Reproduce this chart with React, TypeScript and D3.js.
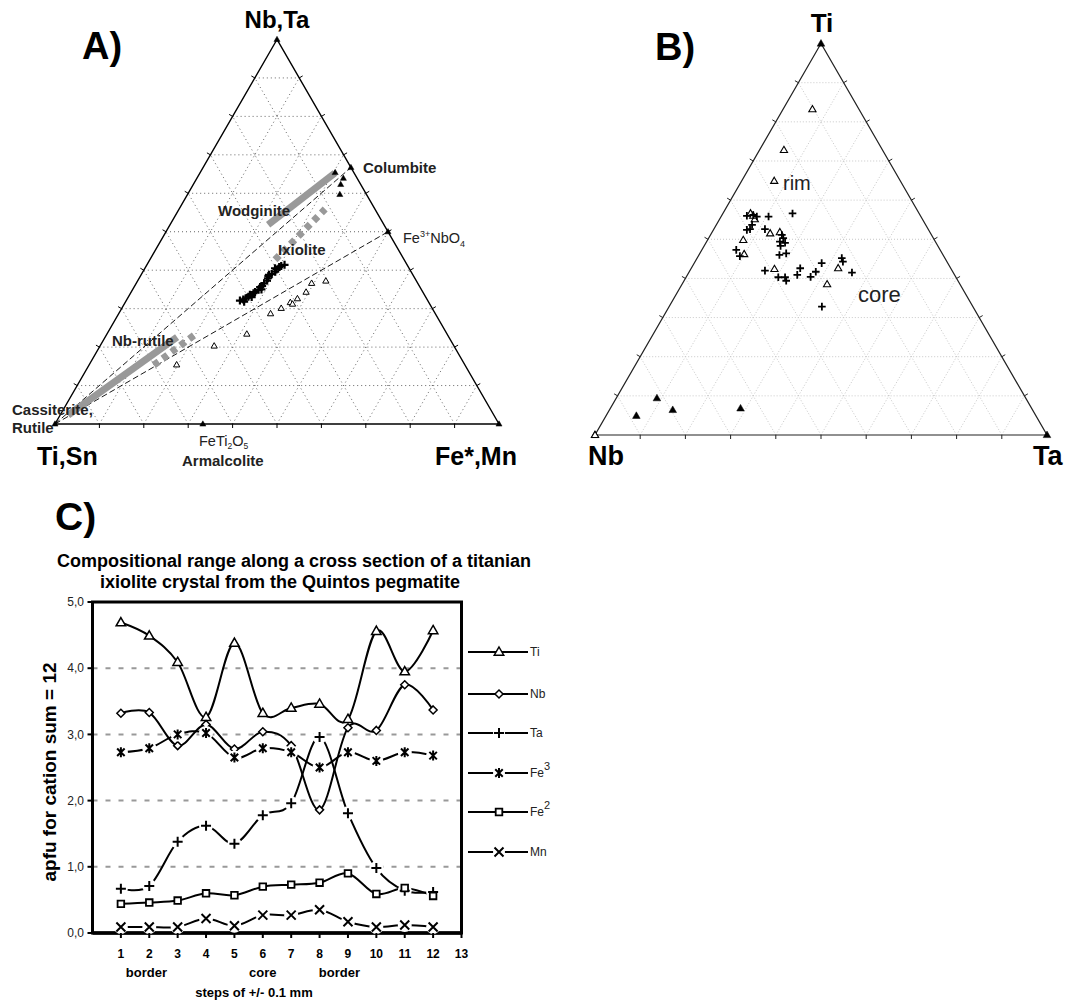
import React from 'react';
import * as d3 from 'd3';

const FONT = "'Liberation Sans', Arial, Helvetica, sans-serif";

// ---------------- Panel A : ternary (Nb,Ta) – (Ti,Sn) – (Fe*,Mn)
// every point is [Nb+Ta fraction, Fe*+Mn fraction]; Ti+Sn is the remainder
const aIxioliteCrosses: [number, number][] = [
  [0.321, 0.256], [0.324, 0.262], [0.327, 0.266], [0.331, 0.270], [0.336, 0.271],
  [0.340, 0.277], [0.343, 0.279], [0.349, 0.284], [0.356, 0.284], [0.359, 0.287],
  [0.366, 0.288], [0.373, 0.291], [0.379, 0.290], [0.388, 0.288], [0.390, 0.293],
  [0.396, 0.298], [0.402, 0.298], [0.408, 0.301], [0.411, 0.304], [0.414, 0.310],
  [0.405, 0.293], [0.385, 0.288], [0.318, 0.267], [0.330, 0.278], [0.350, 0.290],
];
const aOpenTriangles: [number, number][] = [
  [0.154, 0.197], [0.203, 0.257], [0.234, 0.315], [0.287, 0.342], [0.301, 0.359],
  [0.316, 0.372], [0.312, 0.379], [0.326, 0.383], [0.343, 0.394], [0.366, 0.395],
  [0.372, 0.424],
];
const aFilledTriangles: [number, number][] = [
  [0.654, 0.304], [0.639, 0.330], [0.623, 0.332], [0.597, 0.343],
];
const aEndMembers: [number, number][] = [
  [1, 0], [0, 1], [0.667, 0.333], [0.5, 0.5], [0, 0.333], [0, 0],
];
const aTieLines: [number, number][][] = [
  [[0, 0], [0.667, 0.333]],
  [[0, 0], [0.5, 0.5]],
];
const aSolidBands: [number, number][][] = [
  [[0.023, 0.018], [0.226, 0.162]],
  [[0.518, 0.221], [0.653, 0.304]],
];
const aDottedBands: [number, number][][] = [
  [[0.153, 0.146], [0.237, 0.202]],
  [[0.427, 0.282], [0.559, 0.329]],
];

// ---------------- Panel B : ternary Ti – Nb – Ta
// every point is [Ti fraction, Ta fraction]; Nb is the remainder
const bOpenTriangles: [number, number][] = [
  [0.832, 0.065], [0.728, 0.054], [0.649, 0.072], [0.566, 0.061], [0.551, 0.078],
  [0.560, 0.070], [0.498, 0.079], [0.515, 0.130], [0.518, 0.150], [0.462, 0.099],
  [0.424, 0.185], [0.426, 0.325], [0.385, 0.321],
];
const bCrosses: [number, number][] = [
  [0.560, 0.056], [0.562, 0.069], [0.558, 0.079], [0.558, 0.105], [0.566, 0.154],
  [0.526, 0.080], [0.524, 0.074], [0.526, 0.113], [0.511, 0.158], [0.503, 0.165],
  [0.494, 0.162], [0.491, 0.175], [0.483, 0.169], [0.460, 0.178], [0.464, 0.191],
  [0.473, 0.076], [0.457, 0.092], [0.420, 0.166], [0.403, 0.204], [0.403, 0.219],
  [0.394, 0.226], [0.409, 0.243], [0.426, 0.241], [0.404, 0.275], [0.417, 0.280],
  [0.439, 0.282], [0.452, 0.320], [0.443, 0.327], [0.415, 0.361], [0.328, 0.338],
  [0.537, 0.079],
];
const bFilledTriangles: [number, number][] = [
  [0.094, 0.090], [0.049, 0.067], [0.064, 0.140], [0.068, 0.288],
];
const bCorners: [number, number][] = [[1, 0], [0, 0], [0, 1]];

// ---------------- Panel C : profile
const steps = [1, 2, 3, 4, 5, 6, 7, 8, 9, 10, 11, 12];
const xTicks = [1, 2, 3, 4, 5, 6, 7, 8, 9, 10, 11, 12, 13];
const yTicks = [0, 1, 2, 3, 4, 5];
const yTickLabels = ['0,0', '1,0', '2,0', '3,0', '4,0', '5,0'];
const tiValues = [4.69, 4.49, 4.09, 3.26, 4.38, 3.32, 3.40, 3.46, 3.23, 4.56, 3.95, 4.57];
const nbValues = [3.32, 3.33, 2.83, 3.15, 2.78, 3.04, 2.83, 1.86, 3.10, 3.06, 3.75, 3.37];
const taValues = [0.67, 0.71, 1.38, 1.62, 1.35, 1.78, 1.96, 2.96, 1.81, 0.98, 0.64, 0.62];
const fe3Values = [2.73, 2.79, 3.00, 3.02, 2.65, 2.79, 2.73, 2.50, 2.73, 2.60, 2.73, 2.68];
const fe2Values = [0.44, 0.46, 0.49, 0.60, 0.57, 0.70, 0.73, 0.76, 0.90, 0.59, 0.68, 0.56];
const mnValues = [0.09, 0.09, 0.09, 0.22, 0.11, 0.27, 0.27, 0.35, 0.17, 0.09, 0.12, 0.09];
const seriesNames = ['Ti', 'Nb', 'Ta', 'Fe', 'Fe', 'Mn'];
const seriesSup = ['', '', '', '3', '2', ''];
const zoneLabels = [
  { step: 1.9, text: 'border' },
  { step: 6.0, text: 'core' },
  { step: 8.7, text: 'border' },
];

// ---------------- helpers
type Pt = [number, number];

function makeTernary(left: number, right: number, base: number) {
  const h = ((right - left) * Math.sqrt(3)) / 2;
  const xs = d3.scaleLinear().domain([0, 1]).range([left, right]);
  const ys = d3.scaleLinear().domain([0, 1]).range([base, base - h]);
  return (top: number, br: number): Pt => [xs(br + top / 2), ys(top)];
}

const triPath = (s: number) => `M0,${-s}L${s * 0.95},${s * 0.65}L${-s * 0.95},${s * 0.65}Z`;
const plusPath = (s: number) => `M${-s},0H${s}M0,${-s}V${s}`;
const xPath = (s: number) => `M${-s},${-s}L${s},${s}M${-s},${s}L${s},${-s}`;
const starPath = (s: number) => `${xPath(s * 0.75)}M0,${-s}V${s}`;
const diamondPath = (s: number) => `M0,${-s}L${s},0L0,${s}L${-s},0Z`;
const squarePath = (s: number) => `M${-s},${-s}H${s}V${s}H${-s}Z`;

function TernaryFrame({ T, gridColor, gridDash, edgeColor, edgeWidth }: any) {
  const fr = [0.1, 0.2, 0.3, 0.4, 0.5, 0.6, 0.7, 0.8, 0.9];
  const seg = (p: Pt, q: Pt) => `M${p[0]},${p[1]}L${q[0]},${q[1]}`;
  const grid: string[] = [];
  fr.forEach((f) => {
    grid.push(seg(T(f, 0), T(f, 1 - f)));
    grid.push(seg(T(0, f), T(1 - f, f)));
    grid.push(seg(T(0, 1 - f), T(1 - f, 0)));
  });
  const ticks: string[] = [];
  const L = 4;
  fr.forEach((f) => {
    const b = T(0, f);
    ticks.push(seg(b, [b[0], b[1] + L]));
    const l = T(f, 0);
    ticks.push(seg(l, [l[0] - 0.866 * L, l[1] - 0.5 * L]));
    const r = T(f, 1 - f);
    ticks.push(seg(r, [r[0] + 0.866 * L, r[1] - 0.5 * L]));
  });
  const a = T(1, 0), bl = T(0, 0), br = T(0, 1);
  return (
    <g>
      <path d={grid.join('')} stroke={gridColor} strokeWidth={1} strokeDasharray={gridDash} fill="none" />
      <path d={ticks.join('')} stroke={edgeColor} strokeWidth={1} fill="none" />
      <path
        d={`M${a[0]},${a[1]}L${bl[0]},${bl[1]}L${br[0]},${br[1]}Z`}
        stroke={edgeColor}
        strokeWidth={edgeWidth}
        fill="none"
      />
    </g>
  );
}

function PanelA() {
  const T = makeTernary(55, 499, 424);
  const P = (d: Pt) => T(d[0], d[1]);
  return (
    <g>
      <TernaryFrame T={T} gridColor="#666" gridDash="1,3" edgeColor="#000" edgeWidth={1.4} />
      {aTieLines.map((l, i) => {
        const p = P(l[0]), q = P(l[1]);
        return <line key={i} x1={p[0]} y1={p[1]} x2={q[0]} y2={q[1]} stroke="#000" strokeWidth={0.9} strokeDasharray="6,3" />;
      })}
      {aSolidBands.map((l, i) => {
        const p = P(l[0]), q = P(l[1]);
        return <line key={i} x1={p[0]} y1={p[1]} x2={q[0]} y2={q[1]} stroke="#999" strokeWidth={7} />;
      })}
      {aDottedBands.map((l, i) => {
        const p = P(l[0]), q = P(l[1]);
        return <line key={i} x1={p[0]} y1={p[1]} x2={q[0]} y2={q[1]} stroke="#999" strokeWidth={7} strokeDasharray="6,5" />;
      })}
      {aOpenTriangles.map((d, i) => {
        const p = P(d);
        return <path key={i} d={triPath(3.3)} transform={`translate(${p[0]},${p[1]})`} fill="#fff" stroke="#000" strokeWidth={1} />;
      })}
      {aFilledTriangles.concat(aEndMembers).map((d, i) => {
        const p = P(d);
        return <path key={i} d={triPath(3.2)} transform={`translate(${p[0]},${p[1]})`} fill="#000" stroke="#000" strokeWidth={0.5} />;
      })}
      {aIxioliteCrosses.map((d, i) => {
        const p = P(d);
        return <path key={i} d={plusPath(4)} transform={`translate(${p[0]},${p[1]})`} stroke="#000" strokeWidth={2.2} fill="none" />;
      })}
      <g fontFamily={FONT} fill="#222">
        <text x={82} y={59} fontSize={38} fontWeight="bold" fill="#000">A)</text>
        <text x={277} y={28} fontSize={24} fontWeight="bold" textAnchor="middle" fill="#000">Nb,Ta</text>
        <text x={37} y={465} fontSize={25} fontWeight="bold" fill="#000">Ti,Sn</text>
        <text x={435} y={465} fontSize={25} fontWeight="bold" fill="#000">Fe*,Mn</text>
        <text x={363} y={173} fontSize={15} fontWeight="bold">Columbite</text>
        <text x={403} y={243} fontSize={14.5}>
          Fe<tspan fontSize={9} dy={-6}>3+</tspan>
          <tspan dy={6}>NbO</tspan>
          <tspan fontSize={9} dy={4}>4</tspan>
        </text>
        <text x={218} y={216} fontSize={15} fontWeight="bold">Wodginite</text>
        <text x={278} y={255} fontSize={15} fontWeight="bold">Ixiolite</text>
        <text x={112} y={346} fontSize={15} fontWeight="bold">Nb-rutile</text>
        <text x={12} y={415} fontSize={15} fontWeight="bold">Cassiterite,</text>
        <text x={12} y={433} fontSize={15} fontWeight="bold">Rutile</text>
        <text x={199} y={446} fontSize={14.5}>
          FeTi<tspan fontSize={8.5} dy={3}>2</tspan>
          <tspan dy={-3}>O</tspan>
          <tspan fontSize={8.5} dy={3}>5</tspan>
        </text>
        <text x={182} y={466} fontSize={15} fontWeight="bold">Armalcolite</text>
      </g>
    </g>
  );
}

function PanelB() {
  const T = makeTernary(595, 1047, 435);
  const P = (d: Pt) => T(d[0], d[1]);
  return (
    <g>
      <TernaryFrame T={T} gridColor="#c8c8c8" gridDash="1,2" edgeColor="#222" edgeWidth={1.2} />
      {bFilledTriangles.concat(bCorners).map((d, i) => {
        const p = P(d);
        return <path key={i} d={triPath(4)} transform={`translate(${p[0]},${p[1]})`} fill="#000" stroke="#000" strokeWidth={0.5} />;
      })}
      {bOpenTriangles.concat([bCorners[1]]).map((d, i) => {
        const p = P(d);
        return <path key={i} d={triPath(3.8)} transform={`translate(${p[0]},${p[1]})`} fill="#fff" stroke="#000" strokeWidth={1.1} />;
      })}
      {bCrosses.map((d, i) => {
        const p = P(d);
        return <path key={i} d={plusPath(3.8)} transform={`translate(${p[0]},${p[1]})`} stroke="#000" strokeWidth={1.8} fill="none" />;
      })}
      <g fontFamily={FONT}>
        <text x={655} y={60} fontSize={38} fontWeight="bold">B)</text>
        <text x={822} y={32} fontSize={26} fontWeight="bold" textAnchor="middle">Ti</text>
        <text x={588} y={465} fontSize={27} fontWeight="bold">Nb</text>
        <text x={1033} y={465} fontSize={27} fontWeight="bold">Ta</text>
        <text x={783} y={190} fontSize={20} fill="#222">rim</text>
        <text x={858} y={302} fontSize={22} fill="#222">core</text>
      </g>
    </g>
  );
}

function PanelC() {
  const x = d3.scaleLinear().domain([0, 13]).range([92.5, 461.5]);
  const y = d3.scaleLinear().domain([0, 5]).range([933, 602]);
  const line = d3
    .line<number>()
    .x((_, i) => x(steps[i]))
    .y((d) => y(d))
    .curve(d3.curveCatmullRom.alpha(0));

  const series = [
    { values: tiValues, marker: triPath(5), fill: '#fff', sw: 1.5, halo: false },
    { values: nbValues, marker: diamondPath(4), fill: '#fff', sw: 1.5, halo: false },
    { values: taValues, marker: plusPath(5), fill: 'none', sw: 2, halo: true },
    { values: fe3Values, marker: starPath(5), fill: 'none', sw: 2, halo: true },
    { values: fe2Values, marker: squarePath(3.3), fill: '#fff', sw: 1.8, halo: false },
    { values: mnValues, marker: xPath(4.5), fill: 'none', sw: 2, halo: true },
  ];
  const legendY = [652, 694, 733, 773, 812, 852];

  return (
    <g fontFamily={FONT}>
      <text x={55} y={530} fontSize={39} fontWeight="bold">C)</text>
      <text x={294} y={567} fontSize={18} fontWeight="bold" textAnchor="middle">
        Compositional range along a cross section of a titanian
      </text>
      <text x={280} y={588} fontSize={18} fontWeight="bold" textAnchor="middle">
        ixiolite crystal from the Quintos pegmatite
      </text>

      {/* grid */}
      {yTicks.filter((t) => t > 0 && t < 5).map((t) => (
        <line key={t} x1={x(0)} x2={x(13)} y1={y(t)} y2={y(t)} stroke="#999" strokeWidth={2} strokeDasharray="5,8" />
      ))}

      {/* series lines */}
      {series.map((s, i) => (
        <path key={i} d={line(s.values) || ''} fill="none" stroke="#000" strokeWidth={2} />
      ))}

      {/* frame */}
      <rect x={x(0)} y={y(5)} width={x(13) - x(0)} height={y(0) - y(5)} fill="none" stroke="#000" strokeWidth={3} />
      <line x1={x(0)} x2={x(13)} y1={y(0)} y2={y(0)} stroke="#000" strokeWidth={3.5} />

      {/* markers */}
      {series.map((s, i) => (
        <g key={i}>
          {s.values.map((v, j) => (
            <g key={j} transform={`translate(${x(steps[j])},${y(v)})`}>
              {s.halo && <circle r={7} fill="#fff" />}
              <path d={s.marker} fill={s.fill} stroke="#000" strokeWidth={s.sw} />
            </g>
          ))}
        </g>
      ))}

      {/* axis ticks */}
      {yTicks.map((t, i) => (
        <g key={t}>
          <line x1={x(0) - 5} x2={x(0)} y1={y(t)} y2={y(t)} stroke="#000" strokeWidth={2} />
          <text x={84} y={y(t)} dy="0.35em" fontSize={12} textAnchor="end" fill="#222">{yTickLabels[i]}</text>
        </g>
      ))}
      {xTicks.map((t) => (
        <g key={t}>
          <line x1={x(t)} x2={x(t)} y1={y(0)} y2={y(0) + 5} stroke="#000" strokeWidth={2} />
          <text x={x(t)} y={958} fontSize={12} fontWeight="bold" textAnchor="middle">{t}</text>
        </g>
      ))}
      {zoneLabels.map((z, i) => (
        <text key={i} x={x(z.step)} y={977} fontSize={13} fontWeight="bold" textAnchor="middle">{z.text}</text>
      ))}
      <text x={254} y={997} fontSize={13} fontWeight="bold" textAnchor="middle">steps of +/- 0.1 mm</text>
      <text
        transform="translate(56,772) rotate(-90)"
        fontSize={19}
        fontWeight="bold"
        textAnchor="middle"
      >
        apfu for cation sum = 12
      </text>

      {/* legend */}
      {series.map((s, i) => (
        <g key={i} transform={`translate(0,${legendY[i]})`}>
          <line x1={468} x2={528} y1={0} y2={0} stroke="#000" strokeWidth={2} />
          <g transform="translate(499,0)">
            {s.halo && <circle r={6} fill="#fff" />}
            <path d={s.marker} fill={s.fill} stroke="#000" strokeWidth={s.sw} />
          </g>
          <text x={530} y={0} dy="0.35em" fontSize={12} fill="#222">
            {seriesNames[i]}
            {seriesSup[i] && (
              <tspan fontSize={11} dy={-7}>{seriesSup[i]}</tspan>
            )}
          </text>
        </g>
      ))}
    </g>
  );
}

export default function App() {
  return (
    <svg
      width={1078}
      height={1002}
      viewBox="0 0 1078 1002"
      style={{ position: 'absolute', left: 0, top: 0, background: '#fff' }}
    >
      <rect width={1078} height={1002} fill="#fff" />
      <PanelA />
      <PanelB />
      <PanelC />
    </svg>
  );
}
